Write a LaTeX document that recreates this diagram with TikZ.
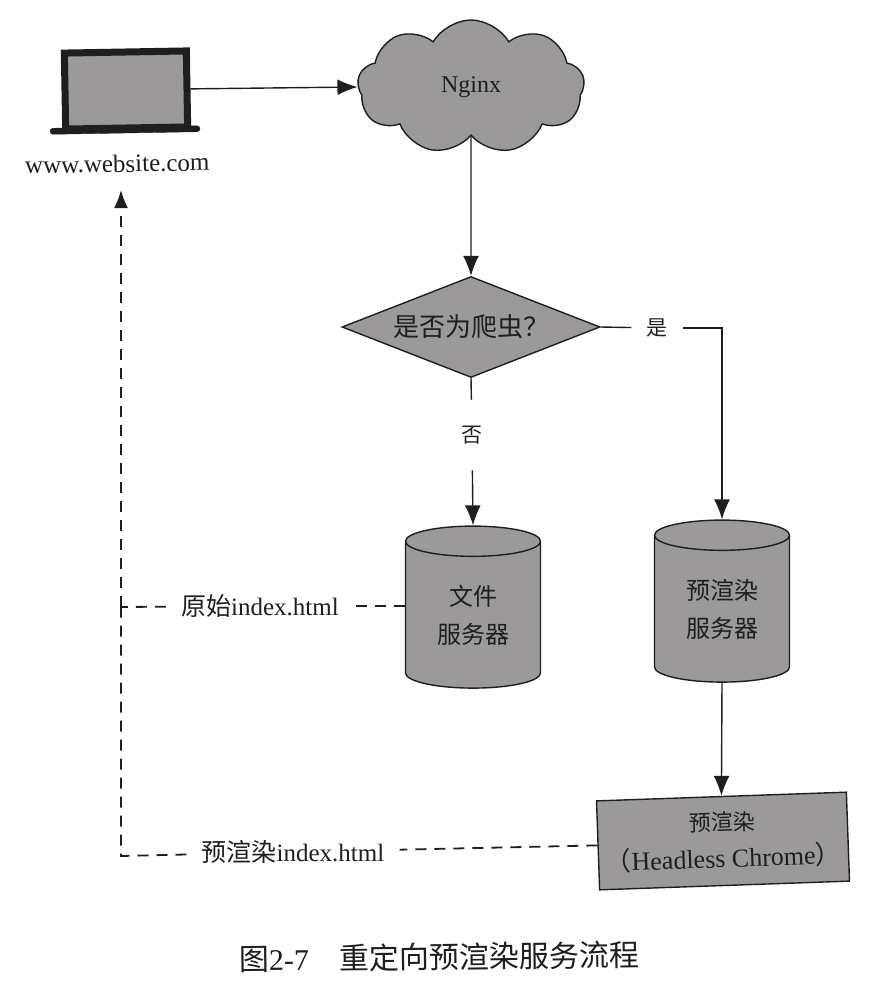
\documentclass[tikz,border=0pt]{standalone}
\usepackage{fontspec}
\setmainfont{Liberation Serif}
\newfontfamily\cjk{Noto Sans CJK SC}
\usetikzlibrary{positioning,arrows.meta,shapes.geometric,shapes.symbols}
\usepackage{xcolor}
\definecolor{DocGray}{RGB}{155,153,153}
\definecolor{DocInk}{RGB}{30,30,30}

\begin{document}
\begin{tikzpicture}[
x=1pt,y=-1pt,
every node/.style={text=DocInk},
shade box/.style={draw=DocInk,fill=DocGray,line width=1.4pt,align=center,inner sep=0pt},
store/.style={
shade box,cylinder,shape border rotate=90,aspect=0.42,
minimum width=135pt,minimum height=162pt,font=\fontsize{24}{38}\selectfont\cjk
},
tag/.style={font=\fontsize{25}{29}\selectfont,inner xsep=15pt,inner ysep=4pt},
arrow/.style={-{Latex[length=20pt,width=16pt]},line width=1.4pt,draw=DocInk},
line/.style={line width=1.4pt,draw=DocInk},
back/.style={line width=1.8pt,draw=DocInk,dash pattern=on 11pt off 8pt}
]
\useasboundingbox (0,0) rectangle (870,988);

\node[draw=DocInk,fill=DocGray,line width=7pt,minimum width=122pt,minimum height=76pt,inner sep=0pt,rotate=1] (screen) at (126,90) {};
\node[draw=DocInk,fill=DocInk,rounded corners=3pt,minimum width=150pt,minimum height=6pt,inner sep=0pt,rotate=1] (base) at (125,130) {};
\node[font=\fontsize{25}{29}\selectfont,rotate=1,below=18pt of base,xshift=-8pt] (site) {www.website.com};
\node[shade box,cloud,cloud puffs=9,cloud puff arc=120,cloud ignores aspect,minimum width=227pt,minimum height=134pt,font=\fontsize{24}{28}\selectfont] (nginx) at (471,87) {Nginx};
\node[shade box,diamond,aspect=2.55,minimum width=258pt,minimum height=101pt,font=\fontsize{26}{30}\selectfont\cjk] (spider) at (471,327) {是否为爬虫？};

\node[store] (files) at (473,615) {文件\\服务器};
\node[store] (prerender) at (722,609) {预渲染\\服务器};
\node[shade box,minimum width=250pt,minimum height=89pt,rotate=2,font=\fontsize{26}{37}\selectfont] (chrome) at (723,841) {{\fontsize{22}{37}\selectfont\cjk 预渲染}\\{\cjk （}Headless Chrome{\cjk ）}};

\node[tag,font=\fontsize{21}{25}\selectfont\cjk] (yes) at (657,328) {是};
\node[tag,inner ysep=26pt,font=\fontsize{21}{25}\selectfont\cjk] (no) at (472,435) {否};
\node[tag] (origin) at (260,606) {{\cjk 原始}index.html};
\node[tag] (rendered) at (293,852) {{\cjk 预渲染}index.html};

\coordinate (tip) at (121,190);
\coordinate (join) at (121,607);
\coordinate (corner) at (121,856);
\coordinate (fileport) at (files.west |- origin);

\draw[arrow] (screen.east)--(nginx.west);
\draw[arrow] (nginx.south)--(spider.north);
\draw[line] (spider.east)--(yes);
\draw[arrow] (yes)-|(prerender.north);
\draw[line] (spider.south)--(no);
\draw[arrow] (no)--(files.north);
\draw[arrow] (prerender.south)--(chrome.north);
\draw[back] (fileport)--(origin);
\draw[back] (origin)--(join);
\draw[back] (chrome.west)--(rendered);
\draw[back] (rendered)--(corner)--(join);
\draw[back,-{Latex[length=18pt,width=14pt]}] (join)--(tip);

\node[font=\fontsize{30}{34}\selectfont,rotate=0.7] (caption) at (439,957) {{\cjk 图}2-7\hspace{30pt}{\cjk 重定向预渲染服务流程}};

\end{tikzpicture}
\end{document}
